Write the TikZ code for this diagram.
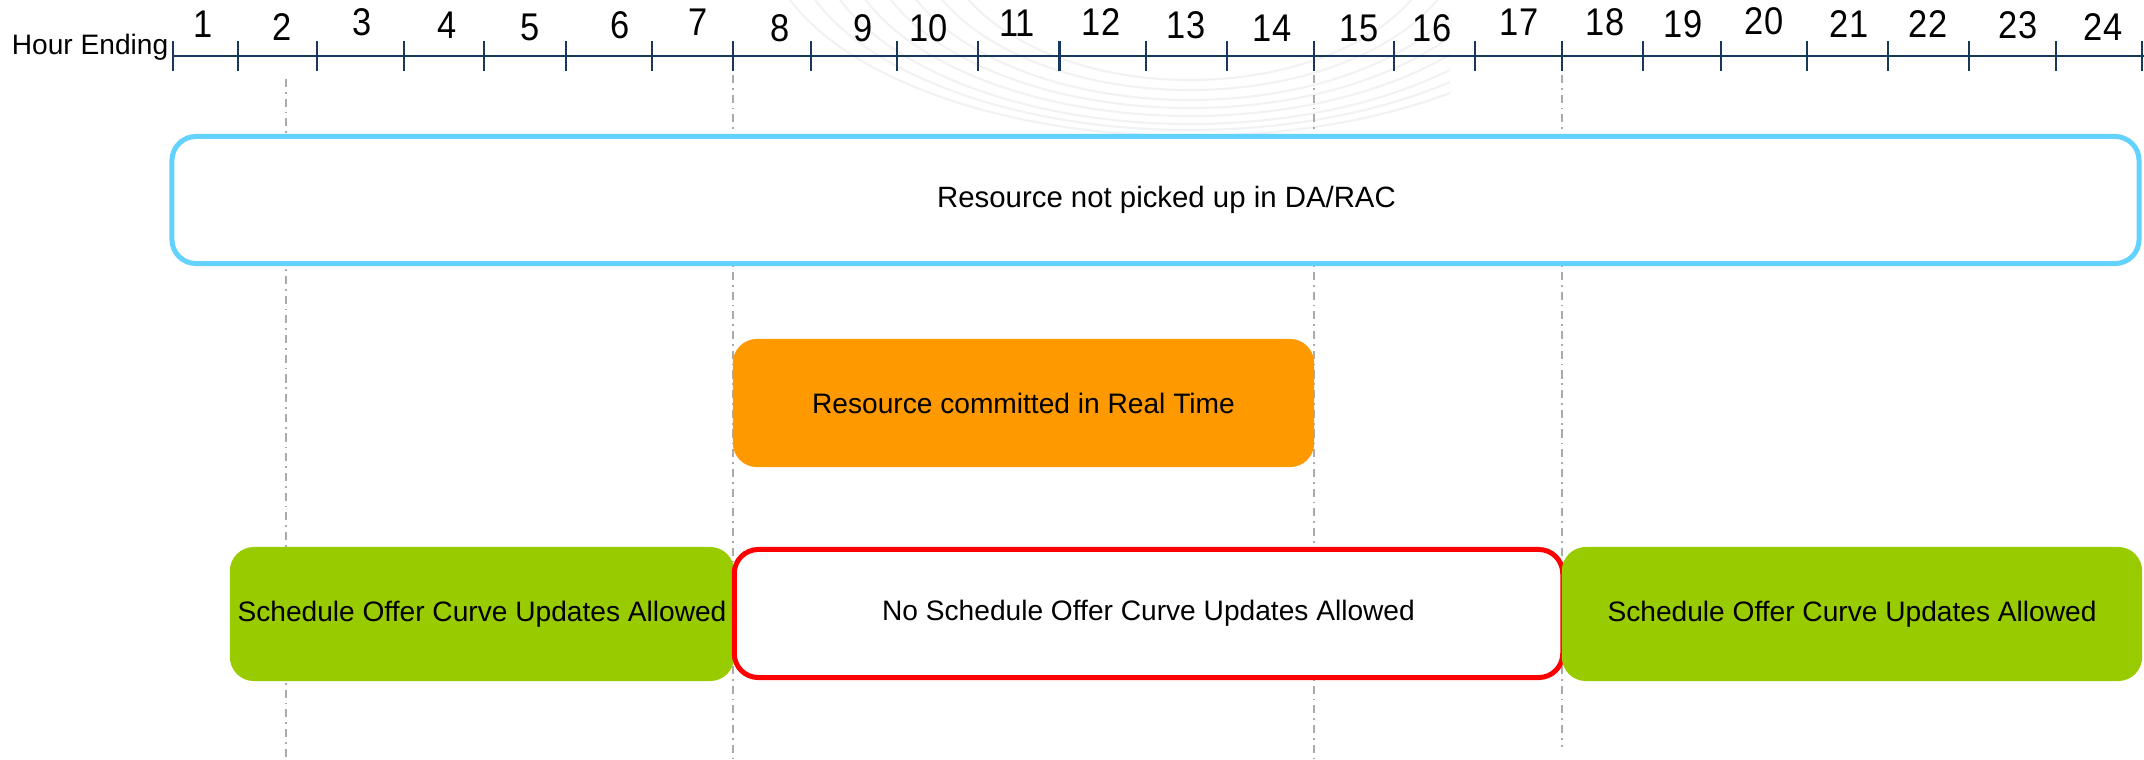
\documentclass[tikz,border=0pt]{standalone}
\usepackage{graphicx}
\usepackage{fontspec}
\setmainfont{Liberation Sans}
\definecolor{axisblue}{RGB}{23,55,94}
\definecolor{guidegray}{RGB}{170,170,170}
\definecolor{skyline}{RGB}{99,210,255}
\definecolor{orangefill}{RGB}{255,153,0}
\definecolor{greenfill}{RGB}{153,204,0}
\definecolor{redline}{RGB}{255,0,0}
\definecolor{watermark}{RGB}{242,242,242}
\newcommand{\tallnum}[1]{\scalebox{1}[1.12]{#1}}
\begin{document}
\begin{tikzpicture}[x=0.01cm,y=-0.01cm,
  axisline/.style={draw=axisblue,line width=0.7pt},
  guide/.style={draw=guidegray,line width=0.55pt,dash pattern=on 2.3pt off 1.4pt on 0.5pt off 1.4pt},
  hourlabel/.style={anchor=base,inner sep=0pt,font=\fontsize{9.8}{11}\selectfont},
  band/.style={rounded corners=0.24cm,inner sep=0pt,align=center,font=\fontsize{8}{9.6}\selectfont,text=black}]
\useasboundingbox (0,0) rectangle (2144,759);
% faint background watermark
\begin{scope}
\clip (600,0) rectangle (1450,150);
\foreach \rx/\ry in {250/150,275/160,300/170,325/178,350/186,375/194,400/200,425/206}
  \draw[watermark,line width=0.6pt] (1190,-70) ellipse ({\rx*0.01cm} and {\ry*0.01cm});
\end{scope}
% guide lines (behind boxes)
\coordinate (g1a) at (286,79);  \coordinate (g1b) at (286,759);
\coordinate (g2a) at (733,75);  \coordinate (g2b) at (733,759);
\coordinate (g3a) at (1314,75); \coordinate (g3b) at (1314,759);
\coordinate (g4a) at (1562,75); \coordinate (g4b) at (1562,747);
\draw[guide] (g1a) -- (g1b);
\draw[guide] (g2a) -- (g2b);
\draw[guide] (g3a) -- (g3b);
\draw[guide] (g4a) -- (g4b);
% axis
\coordinate (axL) at (173,56);
\coordinate (axR) at (2144,56);
\draw[axisline] (axL) -- (axR);
\foreach \t in {173,238,317,404,484,566,652,733,811,897,978,1059.5,1146,1227,1314,1394,1475,1562,1643,1721,1807,1888,1969,2056,2142}
  \draw[axisline] (\t,41) -- (\t,71);
\node[anchor=base east,inner sep=0pt,font=\fontsize{8}{9.6}\selectfont] (hourend) at (169,54) {Hour Ending};
\foreach \n/\xx/\yy in {1/203/37,2/282/40,3/362/35,4/447/38,5/530/40,6/620/38,7/698/35,8/780/41,9/863/41,10/929/41,11/1017/36,12/1101/35,13/1186/38,14/1272/41,15/1359/41,16/1432/41,17/1519/35,18/1605/35,19/1683/37,20/1764/34,21/1849/37,22/1928/37,23/2018/38,24/2103/40}
  \node[hourlabel] (l\n) at (\xx,\yy) {\tallnum{\n}};
% bands
\node[band,draw=skyline,line width=1.42pt,fill=white,minimum width=19.66cm,minimum height=1.27cm,font=\fontsize{8.35}{10}\selectfont] (notpicked) at (1155.5,200) {\hspace*{0.22cm}Resource not picked up in DA/RAC};
\node[band,fill=orangefill,minimum width=5.81cm,minimum height=1.28cm] (committed) at (1023.5,403) {Resource committed in Real Time};
\node[band,fill=greenfill,minimum width=5.04cm,minimum height=1.34cm] (allowedA) at (482,614) {Schedule Offer Curve Updates Allowed};
\node[band,draw=redline,line width=1.42pt,fill=white,minimum width=8.28cm,minimum height=1.28cm] (notallowed) at (1148.5,613.5) {No Schedule Offer Curve Updates Allowed};
\node[band,fill=greenfill,minimum width=5.80cm,minimum height=1.34cm] (allowedB) at (1852,614) {Schedule Offer Curve Updates Allowed};
\end{tikzpicture}
\end{document}
